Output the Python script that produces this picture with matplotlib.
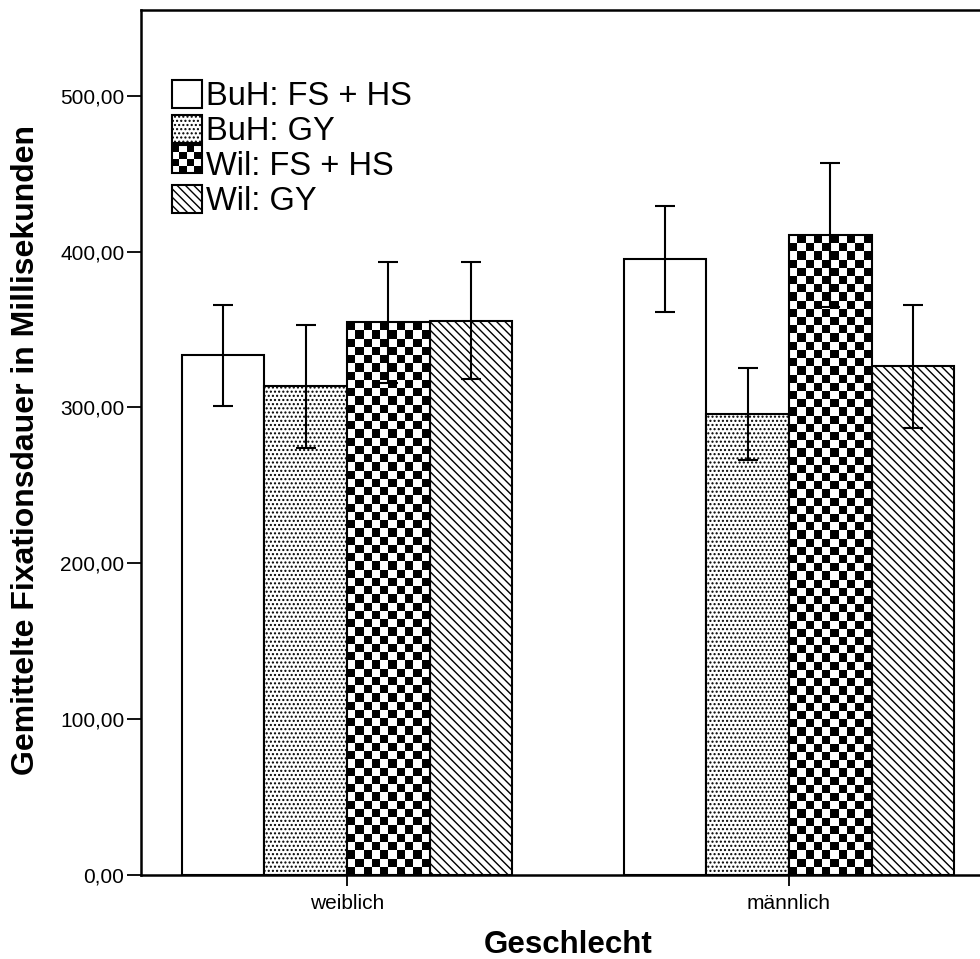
import numpy as np
import matplotlib
matplotlib.use("Agg")
import matplotlib.pyplot as plt
from matplotlib.patches import Rectangle

plt.rcParams['font.family'] = ['Liberation Sans', 'DejaVu Sans']
plt.rcParams['hatch.linewidth'] = 1.0

# data
groups = ["weiblich", "männlich"]
series = ["BuH: FS + HS", "BuH: GY", "Wil: FS + HS", "Wil: GY"]
means = {
    "BuH: FS + HS": [333.5, 395.5],
    "BuH: GY": [313.5, 296.0],
    "Wil: FS + HS": [354.5, 410.5],
    "Wil: GY": [355.5, 326.5],
}
errors = {
    "BuH: FS + HS": [32.5, 34.0],
    "BuH: GY": [39.5, 29.5],
    "Wil: FS + HS": [39.0, 46.0],
    "Wil: GY": [37.5, 39.5],
}
yticks = [0, 100, 200, 300, 400, 500]

hatches = {"BuH: FS + HS": None, "BuH: GY": "....",
           "Wil: FS + HS": "checker", "Wil: GY": "\\\\\\\\"}


class CheckerHandler:
    # legend key for the checkerboard fill
    def legend_artist(self, legend, orig_handle, fontsize, handlebox):
        x0, y0 = handlebox.xdescent, handlebox.ydescent
        w, h = handlebox.width, handlebox.height
        tr = handlebox.get_transform()
        n = 4
        for i in range(n):
            for j in range(n):
                if (i + j) % 2 == 1:
                    handlebox.add_artist(Rectangle((x0 + i * w / n, y0 + j * h / n), w / n, h / n,
                                                   facecolor="black", edgecolor="none", transform=tr))
        border = Rectangle((x0, y0), w, h, facecolor="none", edgecolor="black", lw=1.5, transform=tr)
        handlebox.add_artist(border)
        return border


fig = plt.figure(figsize=(9.8, 9.59), dpi=100)
ax = fig.add_axes([0.1439, 0.0876, 0.8714, 0.902])

x = np.arange(len(groups))
width = 0.187
handles = []
for k, name in enumerate(series):
    off = (k - 1.5) * width
    h = hatches[name]
    bars = ax.bar(x + off, means[name], width, color="white", edgecolor="black",
                  linewidth=1.5, hatch=h if h not in (None, "checker") else None,
                  label=name, zorder=2)
    if h == "checker":
        for b in bars:
            bx, bw, bh = b.get_x(), b.get_width(), b.get_height()
            nx = 10
            ny = int(round(bh / 5.26))
            board = (np.add.outer(np.arange(ny), np.arange(nx)) % 2).astype(float)
            im = ax.imshow(board, cmap="gray", extent=(bx, bx + bw, 0, bh), origin="lower",
                           interpolation="nearest", aspect="auto", zorder=2.5)
            im.set_clip_path(b)
            b.set_facecolor("none")
            b.set_zorder(3)
    ax.errorbar(x + off, means[name], yerr=errors[name], fmt="none", ecolor="black",
                elinewidth=1.5, capsize=7, capthick=1.5, zorder=4)
    handles.append(bars)

ax.set_xlim(-0.466, 1.466)
ax.set_ylim(0, 555)
ax.set_yticks(yticks)
ax.set_yticklabels([f"{v:.2f}".replace(".", ",") for v in yticks], fontsize=15)
ax.set_xticks(x)
ax.set_xticklabels(groups, fontsize=15)
ax.tick_params(axis="y", direction="out", length=10, width=1.3, pad=2)
ax.tick_params(axis="x", direction="out", length=8, width=1.3, pad=6)
for s in ax.spines.values():
    s.set_linewidth(1.8)
ax.spines["right"].set_visible(False)

ax.set_ylabel("Gemittelte Fixationsdauer in Millisekunden", fontsize=23, fontweight="bold")
ax.yaxis.set_label_coords(-0.117, 0.491)
ax.set_xlabel("Geschlecht", fontsize=22.5, fontweight="bold", labelpad=12)

leg = ax.legend(handles, series, loc="upper left", bbox_to_anchor=(0.036, 0.9185),
                frameon=False, fontsize=23.5, handlelength=0.92, handleheight=0.92,
                handletextpad=0.12, labelspacing=0.09, borderpad=0, borderaxespad=0,
                handler_map={handles[2]: CheckerHandler()})

fig.savefig("out.png", dpi=100, facecolor="white")
